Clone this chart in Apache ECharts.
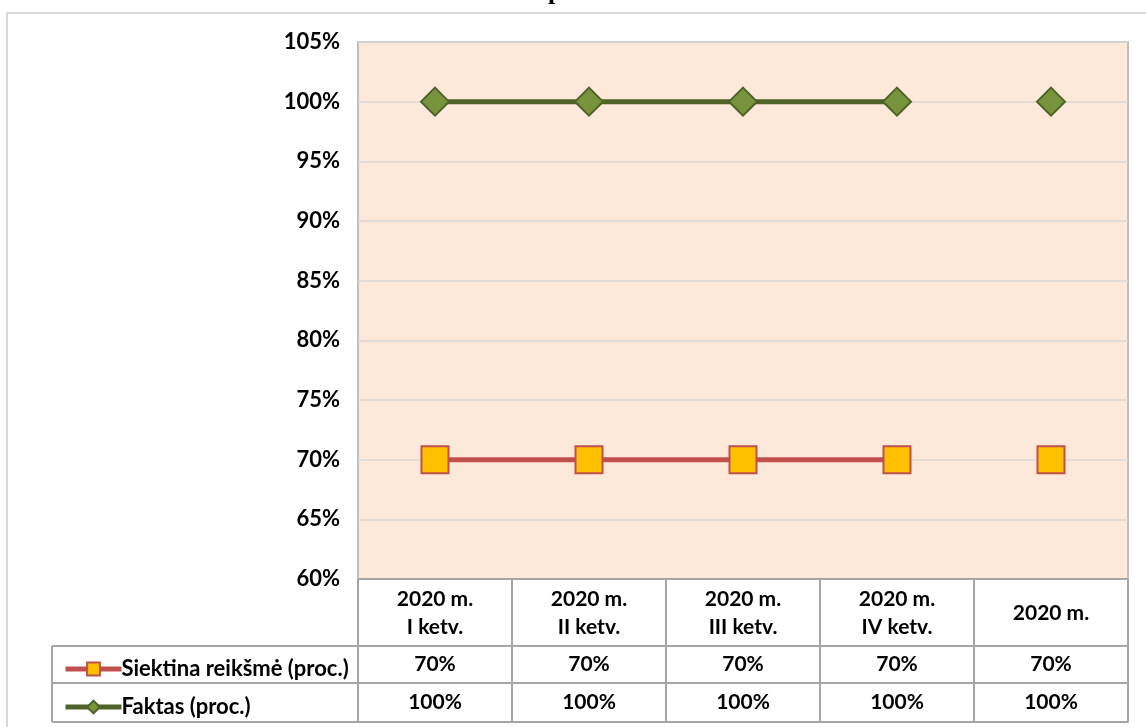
<!DOCTYPE html>
<html>
<head>
<meta charset="utf-8">
<script src="https://cdn.jsdelivr.net/npm/echarts@6/dist/echarts.min.js"></script>
<style>
html,body{margin:0;padding:0;background:#fff;}
#chart{width:1146px;height:727px;}
</style>
</head>
<body>
<div id="chart"></div>
<script>
const categories = ['2020 m.\nI ketv.', '2020 m.\nII ketv.', '2020 m.\nIII ketv.', '2020 m.\nIV ketv.', '2020 m.'];
const targetName = 'Siektina reikšmė (proc.)';
const factName = 'Faktas (proc.)';
const target = [70, 70, 70, 70, 70];
const fact = [100, 100, 100, 100, 100];
const yTicks = { min: 60, max: 105, interval: 5 };
const quarterCount = 4; // first four points are joined, annual value stands alone

const FONT = 'Lato';
const FS = 21;
const RED = '#c0504d', YEL = '#ffc000', DKG = '#4f6228', GRN = '#77933c';
const TABLE_LINE = '#a6a6a6';

const joined = arr => arr.map((v, i) => i < quarterCount ? v : null);
const alone = arr => arr.map((v, i) => i >= quarterCount ? v : null);

const chart = echarts.init(document.getElementById('chart'), null, { renderer: 'canvas' });

const rowAxis = (offset, values, margin) => ({
  type: 'category', position: 'bottom', gridIndex: 0, offset: offset,
  data: categories, boundaryGap: true,
  axisLine: { show: true, lineStyle: { color: TABLE_LINE, width: 2 } },
  axisTick: { show: false }, splitLine: { show: false },
  axisLabel: values ? {
    interval: 0, margin: margin, verticalAlign: 'middle',
    fontFamily: FONT, fontWeight: 'bold', fontSize: FS, color: '#000',
    formatter: (v, i) => values[i] + '%'
  } : { show: false }
});

const option = {
  animation: false,
  backgroundColor: '#fff',
  grid: {
    left: 358, right: 18, top: 42, bottom: 148,
    show: true, backgroundColor: '#fde9d9', borderColor: '#bfbfbf', borderWidth: 2
  },
  legend: {
    orient: 'vertical', left: 58, top: 653,
    itemWidth: 56, itemHeight: 16, itemGap: 16,
    data: [targetName, factName],
    lineStyle: { width: 5 },
    textStyle: { fontFamily: FONT, fontWeight: 'bold', fontSize: 22, color: '#000', lineHeight: 22, padding: [0, 0, 0, -5] },
    selectedMode: false
  },
  xAxis: [
    {
      type: 'category', position: 'bottom', data: categories, boundaryGap: true,
      axisLine: { show: true, lineStyle: { color: TABLE_LINE, width: 2 } },
      axisTick: { show: true, interval: 0, length: 143, lineStyle: { color: TABLE_LINE, width: 2 } },
      axisLabel: {
        interval: 0, margin: 34, verticalAlign: 'middle', lineHeight: 28,
        fontFamily: FONT, fontWeight: 'bold', fontSize: FS, color: '#000'
      },
      splitLine: { show: false }
    },
    rowAxis(67, target, 18.5),
    rowAxis(104, fact, 19.5),
    rowAxis(143, null, 0)
  ],
  yAxis: {
    type: 'value', min: yTicks.min, max: yTicks.max, interval: yTicks.interval,
    axisLine: { show: false }, axisTick: { show: false },
    axisLabel: { formatter: '{value}%', margin: 18, fontFamily: FONT, fontWeight: 'bold', fontSize: 22, color: '#000' },
    splitLine: { lineStyle: { color: '#d9d9d9', width: 1.5 } }
  },
  series: [
    {
      name: targetName, type: 'line', data: joined(target),
      symbol: 'rect', symbolSize: 27,
      lineStyle: { color: RED, width: 5 },
      itemStyle: { color: YEL, borderColor: RED, borderWidth: 2 },
      z: 3
    },
    {
      name: targetName, type: 'line', data: alone(target),
      symbol: 'rect', symbolSize: 27, showSymbol: true,
      lineStyle: { color: RED, width: 5 },
      itemStyle: { color: YEL, borderColor: RED, borderWidth: 2 },
      z: 3
    },
    {
      name: factName, type: 'line', data: joined(fact),
      symbol: 'diamond', symbolSize: 28,
      lineStyle: { color: DKG, width: 5 },
      itemStyle: { color: GRN, borderColor: DKG, borderWidth: 2 },
      z: 4
    },
    {
      name: factName, type: 'line', data: alone(fact),
      symbol: 'diamond', symbolSize: 28, showSymbol: true,
      lineStyle: { color: DKG, width: 5 },
      itemStyle: { color: GRN, borderColor: DKG, borderWidth: 2 },
      z: 4
    }
  ],
  graphic: [
    { type: 'rect', z: -10, shape: { x: 7, y: 13, width: 1150, height: 730 },
      style: { fill: 'none', stroke: '#d9d9d9', lineWidth: 2 } },
    { type: 'text', x: 548, y: 5, style: { text: 'p', fill: '#000', font: 'bold 26px "Liberation Serif"', verticalAlign: 'bottom' } },
    // legend column of the data table
    { type: 'line', shape: { x1: 52, y1: 646, x2: 358, y2: 646 }, style: { stroke: TABLE_LINE, lineWidth: 2 } },
    { type: 'line', shape: { x1: 52, y1: 683, x2: 358, y2: 683 }, style: { stroke: TABLE_LINE, lineWidth: 2 } },
    { type: 'line', shape: { x1: 52, y1: 722, x2: 358, y2: 722 }, style: { stroke: TABLE_LINE, lineWidth: 2 } },
    { type: 'line', shape: { x1: 52, y1: 646, x2: 52, y2: 722 }, style: { stroke: TABLE_LINE, lineWidth: 2 } }
  ]
};
chart.setOption(option);
</script>
</body>
</html>
